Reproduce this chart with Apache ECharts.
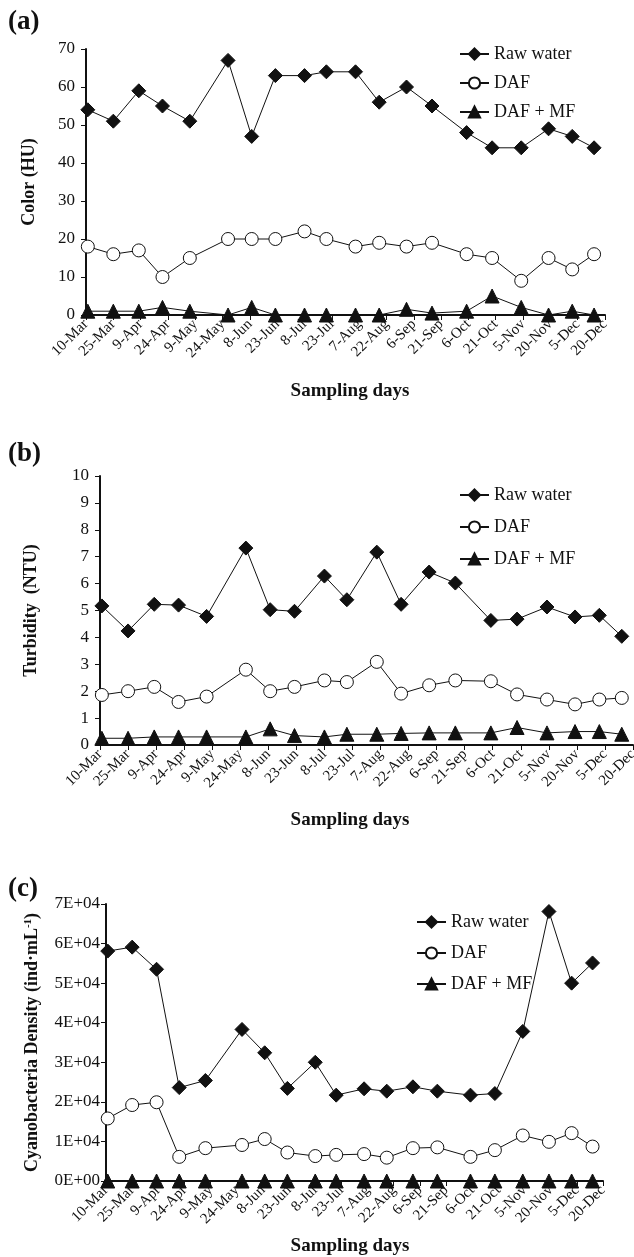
<!DOCTYPE html>
<html>
<head>
<meta charset="utf-8">
<script src="https://cdn.jsdelivr.net/npm/echarts@6/dist/echarts.min.js"></script>
<style>
  html, body { margin: 0; padding: 0; background: #fff; }
  #chart { width: 634px; height: 1257px; }
</style>
</head>
<body>
<div id="chart"></div>
<script>
// Sampling days, counted from 10-Mar (tick every 15 days up to 20-Dec)
const samplingDay = [1, 15, 29, 42, 57, 78, 91, 104, 120, 132, 148, 161, 176, 190, 209, 223, 239, 254, 267, 279];
const tickLabels = ['10-Mar', '25-Mar', '9-Apr', '24-Apr', '9-May', '24-May', '8-Jun', '23-Jun', '8-Jul', '23-Jul',
  '7-Aug', '22-Aug', '6-Sep', '21-Sep', '6-Oct', '21-Oct', '5-Nov', '20-Nov', '5-Dec', '20-Dec'];
const seriesNames = ['Raw water', 'DAF', 'DAF + MF'];

// (a) Color, HU
const colorRaw = [54, 51, 59, 55, 51, 67, 47, 63, 63, 64, 64, 56, 60, 55, 48, 44, 44, 49, 47, 44];
const colorDAF = [18, 16, 17, 10, 15, 20, 20, 20, 22, 20, 18, 19, 18, 19, 16, 15, 9, 15, 12, 16];
const colorDAFMF = [1, 1, 1, 2, 1, 0, 2, 0, 0, 0, 0, 0, 1.5, 0.5, 1, 5, 2, 0, 1, 0];

// (b) Turbidity, NTU
const turbRaw = [5.17, 4.24, 5.23, 5.2, 4.78, 7.32, 5.03, 4.97, 6.28, 5.4, 7.17, 5.23, 6.43, 6.02, 4.63, 4.68, 5.13, 4.76, 4.82, 4.04];
const turbDAF = [1.86, 2.0, 2.16, 1.6, 1.8, 2.8, 2.0, 2.16, 2.4, 2.34, 3.09, 1.91, 2.22, 2.4, 2.37, 1.88, 1.69, 1.51, 1.69, 1.75];
const turbDAFMF = [0.25, 0.25, 0.3, 0.3, 0.3, 0.3, 0.6, 0.35, 0.3, 0.4, 0.4, 0.43, 0.45, 0.45, 0.45, 0.65, 0.45, 0.5, 0.5, 0.4];

// (c) Cyanobacteria density, ind/mL
const cyanoRaw = [58100, 59100, 53500, 23600, 25400, 38300, 32400, 23400, 30000, 21700, 23300, 22700, 23800, 22700, 21700, 22100, 37800, 68100, 50000, 55100];
const cyanoDAF = [15800, 19200, 19900, 6100, 8300, 9100, 10600, 7200, 6300, 6600, 6800, 5900, 8300, 8500, 6100, 7800, 11500, 9900, 12100, 8700];
const cyanoDAFMF = [0, 0, 0, 0, 0, 0, 0, 0, 0, 0, 0, 0, 0, 0, 0, 0, 0, 0, 0, 0];

const serif = 'Liberation Serif, Times New Roman, serif';
const black = '#111';

function sciLabel(v) {
  if (v === 0) return '0E+00';
  const e = Math.floor(Math.log10(v));
  const m = Math.round(v / Math.pow(10, e));
  return m + 'E+' + String(e).padStart(2, '0');
}

const panels = [
  { key: 'a', grid: { left: 86, top: 49, right: 29, height: 266 }, yMax: 70, yStep: 10,
    yName: 'Color (HU)', yGap: 48, yMargin: 11, yFmt: v => v,
    data: [colorRaw, colorDAF, colorDAFMF], legendLeft: 459, legendTop: 45, legendGap: 11,
    tag: { x: 8, y: 21 }, xTitleY: 391 },
  { key: 'b', grid: { left: 100, top: 476, right: 1, height: 269 }, yMax: 10, yStep: 1,
    yName: 'Turbidity  (NTU)', yGap: 60, yMargin: 11, yFmt: v => v,
    data: [turbRaw, turbDAF, turbDAFMF], legendLeft: 459, legendTop: 486, legendGap: 14,
    tag: { x: 8, y: 453 }, xTitleY: 820 },
  { key: 'c', grid: { left: 106, top: 904, right: 31, height: 277 }, yMax: 70000, yStep: 10000,
    yName: 'Cyanobacteria Density (ind·mL{sup|-1})', yGap: 64, yMargin: 6, yFmt: sciLabel,
    data: [cyanoRaw, cyanoDAF, cyanoDAFMF], legendLeft: 416, legendTop: 913, legendGap: 13,
    tag: { x: 8, y: 888 }, xTitleY: 1246 }
];

const markerStyles = [
  { symbol: 'diamond', symbolSize: 14, itemStyle: { color: black, borderColor: black, borderWidth: 1 } },
  { symbol: 'circle', symbolSize: 13, itemStyle: { color: '#fff', borderColor: black, borderWidth: 1 } },
  { symbol: 'triangle', symbolSize: 14, itemStyle: { color: black, borderColor: black, borderWidth: 1 } }
];

const grid = [], xAxis = [], yAxis = [], series = [], legend = [], graphic = [];

panels.forEach((p, i) => {
  grid.push(Object.assign({ outerBoundsMode: 'none', containLabel: false }, p.grid));
  xAxis.push({
    type: 'value', gridIndex: i, min: 0, max: 285, interval: 15,
    axisLine: { show: true, onZero: false, lineStyle: { color: black, width: 2 } },
    axisTick: { show: true, inside: false, length: 5, lineStyle: { color: black, width: 1 } },
    splitLine: { show: false },
    axisLabel: {
      rotate: 45, margin: 7, color: black, fontFamily: serif, fontSize: 15,
      formatter: v => tickLabels[Math.round(v / 15)] || ''
    }
  });
  yAxis.push({
    type: 'value', gridIndex: i, min: 0, max: p.yMax, interval: p.yStep,
    name: p.yName, nameLocation: 'middle', nameRotate: 90, nameGap: p.yGap,
    nameTextStyle: {
      color: black, fontFamily: serif, fontSize: 18, fontWeight: 'bold',
      rich: { sup: { fontFamily: serif, fontSize: 11, fontWeight: 'bold', color: black, verticalAlign: 'top', padding: [0, 0, 8, 0] } }
    },
    axisLine: { show: true, lineStyle: { color: black, width: 2 } },
    axisTick: { show: true, inside: false, length: 5, lineStyle: { color: black, width: 1 } },
    splitLine: { show: false },
    axisLabel: { color: black, fontFamily: serif, fontSize: 17, margin: p.yMargin, formatter: p.yFmt }
  });
  p.data.forEach((vals, k) => {
    series.push(Object.assign({
      type: 'line', name: seriesNames[k], xAxisIndex: i, yAxisIndex: i,
      data: samplingDay.map((d, j) => [d, vals[j]]),
      showAllSymbol: true, clip: false, animation: false,
      lineStyle: { color: black, width: 1 },
      emphasis: { disabled: true }
    }, markerStyles[k]));
  });
  legend.push({
    orient: 'vertical', left: p.legendLeft, top: p.legendTop, padding: 0,
    itemWidth: 29, itemHeight: 14, itemGap: p.legendGap,
    data: seriesNames,
    textStyle: { color: black, fontFamily: serif, fontSize: 18 },
    selectedMode: false
  });
  graphic.push({
    type: 'text', left: p.tag.x, top: p.tag.y - 12,
    style: { text: '(' + p.key + ')', font: 'bold 27px ' + serif, fill: black }
  });
  graphic.push({
    type: 'text', x: 350, y: p.xTitleY,
    style: { text: 'Sampling days', font: 'bold 19px ' + serif, fill: black, align: 'center', verticalAlign: 'middle' }
  });
});

const chart = echarts.init(document.getElementById('chart'), null, { renderer: 'canvas' });
chart.setOption({
  backgroundColor: '#fff',
  animation: false,
  grid, xAxis, yAxis, series, legend, graphic
});
</script>
</body>
</html>
